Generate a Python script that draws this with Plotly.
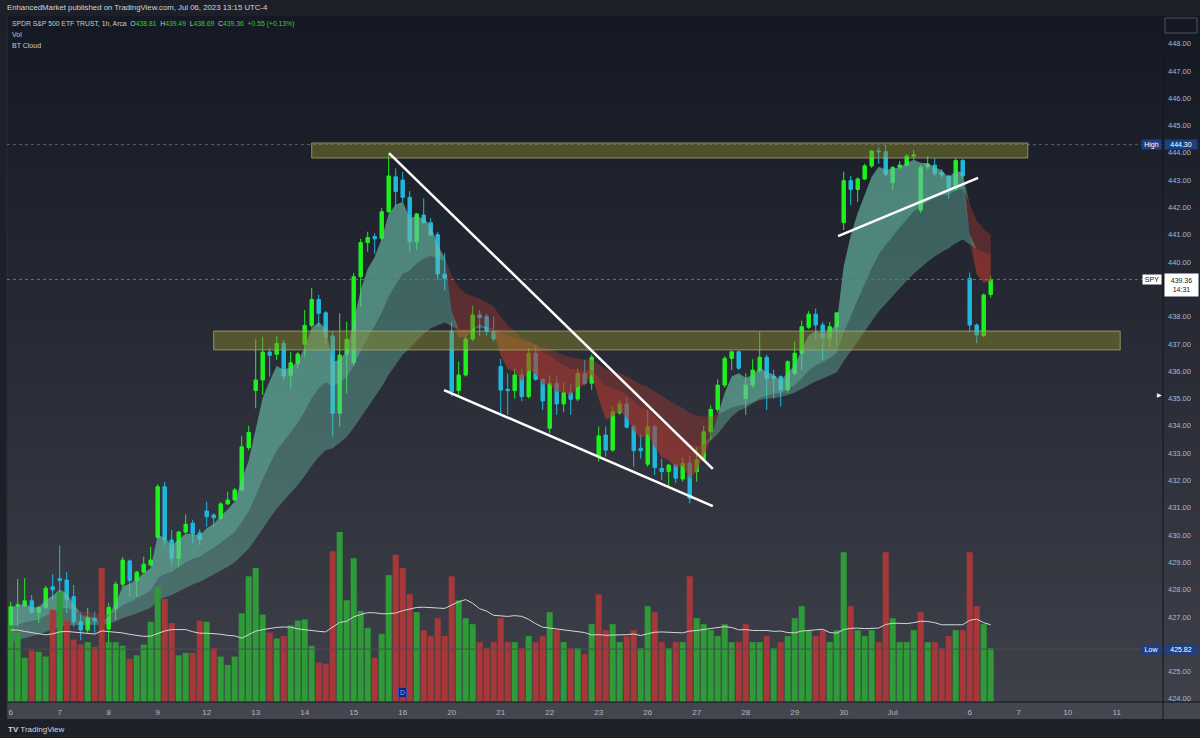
import plotly.graph_objects as go
import pandas as pd

# ---------------- data (1h SPY bars, Jun 6 - Jul 6 2023) ----------------
opens = [426.62,427.40,427.42,427.59,427.17,427.34,428.10,428.40,428.35,427.74,426.82,426.52,426.96,426.86,
         426.56,427.31,428.20,429.05,428.33,428.64,428.90,429.92,431.77,429.82,429.15,430.11,430.43,430.08,
         430.88,430.73,430.61,431.14,431.28,431.65,433.20,435.29,435.68,436.70,436.62,437.02,435.85,436.29,
         436.99,437.68,438.63,438.14,437.29,434.46,436.63,436.31,439.46,440.71,440.93,440.87,441.84,443.12,
         443.00,442.37,440.74,441.72,441.44,441.00,439.55,437.47,435.29,435.86,437.18,438.06,438.00,437.45,
         436.17,435.34,435.29,435.86,435.07,436.66,435.70,433.91,435.56,434.80,435.21,434.98,435.92,435.56,
         432.87,433.66,433.11,434.48,434.80,433.97,433.18,432.59,433.97,432.44,432.32,432.56,432.05,432.63,
         432.32,432.77,433.78,434.60,435.49,436.47,436.71,435.00,435.49,436.02,436.51,435.80,435.80,435.31,
         435.92,436.66,437.61,438.09,437.69,437.21,437.63,441.44,442.98,442.66,443.04,443.52,444.07,444.04,
         442.91,443.47,443.55,443.88,441.90,443.49,443.55,443.27,443.15,442.70,443.72,439.40,437.69,437.30,
         438.81]
highs = [427.56,428.39,428.42,427.80,427.40,428.13,428.57,429.61,428.65,428.17,427.19,427.33,427.19,427.19,
         427.51,428.29,429.19,429.10,428.68,429.21,429.57,431.86,431.95,430.18,430.15,430.76,430.55,430.20,
         431.22,430.80,431.20,431.59,431.72,433.63,434.00,437.17,437.26,436.85,437.29,437.15,436.71,436.70,
         438.24,439.04,438.80,438.20,437.45,438.12,437.81,439.59,440.85,441.11,441.05,441.97,443.95,443.43,
         443.30,442.60,441.80,442.33,441.60,441.10,440.32,437.80,436.35,437.35,438.39,438.25,438.10,438.00,
         436.45,435.92,436.10,436.10,436.85,436.96,435.75,435.85,435.85,435.60,435.55,436.10,436.41,436.60,
         433.97,433.97,434.70,434.95,435.03,434.05,433.70,434.58,434.05,432.80,432.60,432.60,432.85,432.90,
         433.23,434.00,434.75,435.70,436.55,436.75,436.75,435.92,436.44,437.45,436.60,436.05,435.85,436.40,
         437.10,437.85,438.20,438.30,437.80,437.80,438.14,443.31,443.15,443.10,443.60,444.10,444.20,444.30,
         443.50,443.70,443.95,444.10,443.55,443.88,443.80,443.40,443.20,443.80,443.78,439.61,437.75,438.85,
         439.49]
lows = [426.59,426.64,427.36,427.14,426.78,427.30,427.62,427.74,427.14,426.64,426.15,426.41,426.41,426.28,
        425.82,426.89,428.10,427.74,427.74,428.60,428.85,429.85,429.63,428.84,428.84,430.05,429.70,429.63,
        430.30,430.30,430.55,431.10,431.25,431.60,433.10,434.64,435.13,435.80,436.41,435.68,435.37,436.10,
        436.53,437.60,437.63,437.00,433.60,433.97,435.20,436.20,438.36,440.38,440.30,440.80,441.80,442.03,
        442.20,440.38,440.45,441.40,440.95,439.34,438.97,435.07,435.07,435.80,437.10,437.29,437.30,437.10,
        434.40,434.40,435.00,434.90,435.00,435.65,434.58,433.72,434.40,434.50,434.40,434.90,435.50,435.31,
        432.69,432.87,433.05,434.40,433.90,432.50,432.80,432.50,432.20,432.01,431.77,431.90,431.95,431.16,
        431.95,432.70,433.50,434.50,435.40,436.04,436.04,434.40,435.40,435.95,434.58,435.00,434.70,435.20,
        435.85,436.04,437.55,437.15,436.41,436.90,436.90,441.17,442.09,442.20,443.00,443.45,443.60,443.15,
        442.64,443.40,443.50,443.75,441.80,443.40,443.15,443.10,442.33,442.60,443.05,437.45,437.02,437.25,
        438.69]
closes = [427.37,427.45,427.59,427.17,427.34,428.05,427.99,428.33,427.64,426.82,426.52,426.96,426.86,426.56,
          427.35,428.20,429.08,428.33,428.64,428.93,429.08,431.77,429.82,429.15,430.11,430.39,430.06,429.84,
          430.67,430.63,431.14,431.28,431.65,433.23,433.76,435.68,436.70,436.58,437.02,435.82,436.31,436.63,
          437.68,438.63,438.12,437.24,434.46,436.59,437.17,439.46,440.71,440.90,440.85,441.84,443.15,442.58,
          442.37,440.74,441.76,441.44,440.99,439.56,439.40,435.25,435.86,437.18,438.06,437.96,437.45,437.18,
          435.31,435.29,435.86,435.07,436.66,435.70,434.91,435.56,434.80,435.21,434.97,435.92,435.56,436.51,
          433.63,433.11,434.52,434.80,433.95,433.09,433.09,433.97,432.47,432.32,432.56,432.08,432.63,431.34,
          432.75,433.78,434.60,435.49,436.47,436.71,436.11,435.49,436.04,436.51,435.74,435.74,435.31,436.35,
          436.66,437.63,438.09,437.69,437.21,437.63,438.14,442.98,442.66,443.04,443.52,444.07,444.04,443.22,
          443.47,443.55,443.88,443.92,443.47,443.59,443.25,443.19,442.70,443.72,443.15,437.69,437.33,438.79,
          439.36]
volumes_m = [6.4,5.8,3.7,4.3,4.2,3.8,7.7,9.2,6.8,5.2,4.8,5.0,4.6,11.2,
             5.0,5.0,4.7,3.6,3.9,4.8,6.7,9.6,8.6,6.6,3.9,4.1,4.1,6.8,
             6.7,4.5,3.8,3.1,3.8,7.4,10.5,11.2,7.3,5.8,5.3,5.5,6.4,6.8,
             6.9,4.7,3.3,3.2,12.6,14.2,8.5,12.0,7.6,6.2,3.7,5.7,10.6,12.3,
             11.2,9.0,7.5,6.0,5.5,7.0,5.5,10.5,8.5,7.0,6.5,5.0,4.5,5.0,
             7.0,5.0,5.0,4.5,5.5,5.0,5.5,7.5,6.0,5.0,4.5,4.5,4.0,6.5,
             9.0,6.0,6.5,5.0,5.5,6.0,4.5,8.0,7.5,5.0,4.5,5.0,5.0,10.5,
             7.0,6.5,6.0,5.5,6.5,5.0,5.0,6.5,5.0,5.0,5.5,4.5,5.0,5.5,
             7.0,8.0,6.0,5.5,6.0,5.0,6.0,12.5,8.0,6.0,5.5,6.0,5.0,12.5,
             7.0,5.0,5.0,6.0,7.5,5.0,5.0,4.5,5.5,6.0,6.0,12.5,8.0,6.5,
             4.5]
vol_ma_start = 6.0          # volume average level at the left edge
cloud_seed_mid = 426.5      # cloud edges at the left edge of the chart
cloud_seed_slow = 426.0

tick_index = [0, 7, 14, 21, 28, 35, 42, 49, 56, 63, 70, 77, 84, 91, 98, 105, 112, 119, 126, 137, 144, 151, 158]
tick_labels = ["6", "7", "8", "9", "12", "13", "14", "15", "16", "20", "21", "22", "23", "26", "27",
               "28", "29", "30", "Jul", "6", "7", "10", "11"]
price_ticks = [424, 425, 427, 428, 429, 430, 431, 432, 433, 434, 435, 436, 437, 438, 440,
               441, 442, 443, 444, 445, 446, 447, 448]

# drawings (bar index / price)
zone_upper = [43.0, 145.3, 443.81, 444.36]
zone_lower = [29.0, 158.5, 436.78, 437.47]
trend_lines = [[54.05, 443.99, 100.3, 432.42],
               [61.9, 435.31, 100.3, 431.06],
               [118.2, 440.95, 138.2, 443.08]]
high_price = 444.30
low_price = 425.82
last_price = 439.36

# ---------------- indicators ----------------
def ema(vals, span, seed):
    a = 2.0 / (span + 1)
    out, e = [], seed
    for v in vals:
        e = a * v + (1 - a) * e
        out.append(e)
    return out

ema_f = ema(closes, 4, closes[0])
ema_m = ema(closes, 16, cloud_seed_mid)
ema_s = ema(closes, 34, cloud_seed_slow)
vol_ma = []
for i in range(len(volumes_m)):
    window = volumes_m[max(0, i - 19):i + 1]
    pad = 20 - len(window)
    vol_ma.append((sum(window) + pad * vol_ma_start) / 20.0)

# ---------------- figure ----------------
W, H = 1200, 738
X0, X1 = 7, 1163          # plot pixel edges
Y0, Y1 = 16, 702
def px(x): return x / W
def py(y): return 1 - y / H

n = len(closes)
idx = list(range(n))

UP, DN = "#1ff01f", "#1fb8dd"
VUP, VDN = "#2e9a38", "#a6383a"
vcols = []
for i in range(n):
    ref = closes[i - 1] if i > 0 else opens[i]
    vcols.append(VUP if closes[i] >= ref else VDN)

fig = go.Figure()

# volume
fig.add_trace(go.Bar(x=idx, y=volumes_m, marker=dict(color=vcols, line=dict(width=0)),
                     yaxis="y2", hoverinfo="skip", showlegend=False))
fig.add_trace(go.Scatter(x=idx, y=vol_ma, mode="lines", line=dict(color="#d6d6d6", width=1),
                         yaxis="y2", hoverinfo="skip", showlegend=False))

# cloud layers
TEAL = "rgba(104,190,168,0.40)"
RED = "rgba(178,58,48,0.38)"
for slow in (ema_m, ema_s):
    up_edge = [max(a, b) for a, b in zip(ema_f, slow)]
    dn_edge = [min(a, b) for a, b in zip(ema_f, slow)]
    fig.add_trace(go.Scatter(x=idx, y=slow, mode="lines", line=dict(width=0), hoverinfo="skip", showlegend=False))
    fig.add_trace(go.Scatter(x=idx, y=up_edge, mode="lines", line=dict(width=0), fill="tonexty",
                             fillcolor=TEAL, hoverinfo="skip", showlegend=False))
    fig.add_trace(go.Scatter(x=idx, y=slow, mode="lines", line=dict(width=0), hoverinfo="skip", showlegend=False))
    fig.add_trace(go.Scatter(x=idx, y=dn_edge, mode="lines", line=dict(width=0), fill="tonexty",
                             fillcolor=RED, hoverinfo="skip", showlegend=False))

# candles
fig.add_trace(go.Candlestick(x=idx, open=opens, high=highs, low=lows, close=closes,
                             increasing=dict(line=dict(color=UP, width=1), fillcolor=UP),
                             decreasing=dict(line=dict(color=DN, width=1), fillcolor=DN),
                             whiskerwidth=0, hoverinfo="skip", showlegend=False))

# price range mapping
p_per_px = 1 / 27.3
ytop = 440 + (262 - Y0) * p_per_px
ybot = 440 - (Y1 - 262) * p_per_px
xl = (X0 - 10.7) / 7.0
xr = (X1 - 10.7) / 7.0

shapes = []
# gradient background
steps = 70
c_top = (21, 25, 36)
c_bot = (62, 64, 74)
for k in range(steps):
    t = k / (steps - 1)
    c = tuple(int(c_top[j] + (c_bot[j] - c_top[j]) * t) for j in range(3))
    ya = Y0 + (Y1 - Y0) * k / steps
    yb = Y0 + (Y1 - Y0) * (k + 1) / steps + 0.6
    shapes.append(dict(type="rect", xref="paper", yref="paper", x0=px(X0), x1=1, y0=py(yb), y1=py(ya),
                       fillcolor="rgb(%d,%d,%d)" % c, line=dict(width=0), layer="below"))
# x-axis strip
shapes.append(dict(type="rect", xref="paper", yref="paper", x0=px(X0), x1=1, y0=py(719), y1=py(Y1),
                   fillcolor="#43464f", line=dict(width=0), layer="below"))
# separators
shapes.append(dict(type="line", xref="paper", yref="paper", x0=px(X1), x1=px(X1), y0=py(719), y1=py(Y0),
                   line=dict(color="#15171e", width=1)))
shapes.append(dict(type="line", xref="paper", yref="paper", x0=px(X0), x1=1, y0=py(Y1), y1=py(Y1),
                   line=dict(color="#15171e", width=1)))
shapes.append(dict(type="line", xref="paper", yref="paper", x0=px(X0), x1=px(X0), y0=py(719), y1=py(Y0),
                   line=dict(color="#2a2d37", width=1)))
# price lines
for pv, dash, col in ((high_price, "dot", "#5d606b"), (last_price, "dot", "#6a6d78"), (low_price, "solid", "#4a4d58")):
    shapes.append(dict(type="line", xref="paper", yref="y", x0=px(X0), x1=px(X1), y0=pv, y1=pv,
                       line=dict(color=col, width=1, dash=dash)))
# zones
for z in (zone_upper, zone_lower):
    shapes.append(dict(type="rect", xref="x", yref="y", x0=z[0], x1=z[1], y0=z[2], y1=z[3],
                       fillcolor="rgba(140,140,40,0.45)", line=dict(color="rgba(180,180,110,0.7)", width=1),
                       layer="above"))
# trend lines
for t in trend_lines:
    shapes.append(dict(type="line", xref="x", yref="y", x0=t[0], y0=t[1], x1=t[2], y1=t[3],
                       line=dict(color="white", width=2.5), layer="above"))
# top-right box
shapes.append(dict(type="rect", xref="paper", yref="paper", x0=px(1165), x1=px(1197), y0=py(33), y1=py(18),
                   line=dict(color="#50535e", width=1), fillcolor="rgba(0,0,0,0)"))

ann = []
FONT = "Liberation Sans"
ann.append(dict(x=px(5), y=py(8), xref="paper", yref="paper", xanchor="left", yanchor="middle", showarrow=False,
                text="EnhancedMarket published on TradingView.com, Jul 06, 2023 13:15 UTC-4",
                font=dict(size=7.8, color="#d1d4dc", family=FONT)))
g = "#2fd02f"
ann.append(dict(x=px(10), y=py(24), xref="paper", yref="paper", xanchor="left", yanchor="middle", showarrow=False,
                text=("SPDR S&P 500 ETF TRUST, 1h, Arca  O<span style='color:%s'>438.81</span>  "
                      "H<span style='color:%s'>439.49</span>  L<span style='color:%s'>438.69</span>  "
                      "C<span style='color:%s'>439.36</span>  <span style='color:%s'>+0.55 (+0.13%%)</span>")
                     % (g, g, g, g, g),
                font=dict(size=6.8, color="#c8cad2", family=FONT)))
ann.append(dict(x=px(10), y=py(35), xref="paper", yref="paper", xanchor="left", yanchor="middle", showarrow=False,
                text="Vol", font=dict(size=7, color="#c8cad2", family=FONT)))
ann.append(dict(x=px(10), y=py(45), xref="paper", yref="paper", xanchor="left", yanchor="middle", showarrow=False,
                text="BT Cloud", font=dict(size=7, color="#c8cad2", family=FONT)))
# footer
ann.append(dict(x=px(6), y=py(729), xref="paper", yref="paper", xanchor="left", yanchor="middle", showarrow=False,
                text="<b>TV</b> TradingView", font=dict(size=8, color="#d1d4dc", family=FONT)))

# axis badges (annotations with background)
def badge(xc, yc, text, bg, fg, w, h=9):
    ann.append(dict(x=px(xc), y=yc, xref="paper", yref="y", xanchor="center", yanchor="middle",
                    showarrow=False, text=text, width=w, height=h, bgcolor=bg, borderpad=0,
                    font=dict(size=7, color=fg, family=FONT)))
badge(1151.5, high_price, "High", "#1f3f82", "#ffffff", 19)
badge(1180.5, high_price, "444.30", "#1f3f82", "#ffffff", 32)
badge(1151.5, low_price, "Low", "#1f3f82", "#ffffff", 19)
badge(1180.5, low_price, "425.82", "#1f3f82", "#ffffff", 32)
badge(1152, last_price, "SPY", "#ffffff", "#131722", 18)
ann.append(dict(x=px(1181), y=last_price + 6 * p_per_px, xref="paper", yref="y", xanchor="center", yanchor="top",
                showarrow=False, text="439.36<br>14:31", width=33, height=22, bgcolor="#ffffff", borderpad=0,
                align="center", font=dict(size=7, color="#131722", family=FONT)))
ann.append(dict(x=px(1164), y=435.0 + 4 * p_per_px, xref="paper", yref="y", showarrow=False, text="▶",
                font=dict(size=6, color="#ffffff", family=FONT)))
# dividend marker
ann.append(dict(x=56, y=ybot + 10 * p_per_px, xref="x", yref="y", showarrow=False, text="D",
                font=dict(size=7, color="#8fa8ff", family=FONT), bgcolor="#14246b",
                bordercolor="#3050c0", borderwidth=1, borderpad=1))

fig.update_layout(
    width=W, height=H, margin=dict(l=0, r=0, t=0, b=0),
    paper_bgcolor="#1e2029", plot_bgcolor="rgba(0,0,0,0)",
    showlegend=False, bargap=0.14, hovermode=False,
    shapes=shapes, annotations=ann,
    xaxis=dict(domain=[px(X0), px(X1)], range=[xl, xr], rangeslider=dict(visible=False),
               tickmode="array", tickvals=tick_index, ticktext=tick_labels,
               tickfont=dict(size=8, color="#b2b5be", family=FONT), showgrid=False, zeroline=False,
               showline=False, ticks="", ticklabelstandoff=4),
    yaxis=dict(domain=[py(Y1), py(Y0)], range=[ybot, ytop], side="right",
               tickmode="array", tickvals=price_ticks, ticktext=["%.2f" % v for v in price_ticks],
               tickfont=dict(size=7.5, color="#b2b5be", family=FONT), showgrid=False, zeroline=False,
               showline=False, ticks="", ticklabelstandoff=4),
    yaxis2=dict(domain=[py(Y1), py(Y0)], overlaying="y", range=[0, 14.2 * (Y1 - Y0) / 170],
                visible=False, showgrid=False),
)

fig.write_html("out.html", config={"displayModeBar": False},
               post_script="document.body.style.margin='0';document.body.style.overflow='hidden';")
